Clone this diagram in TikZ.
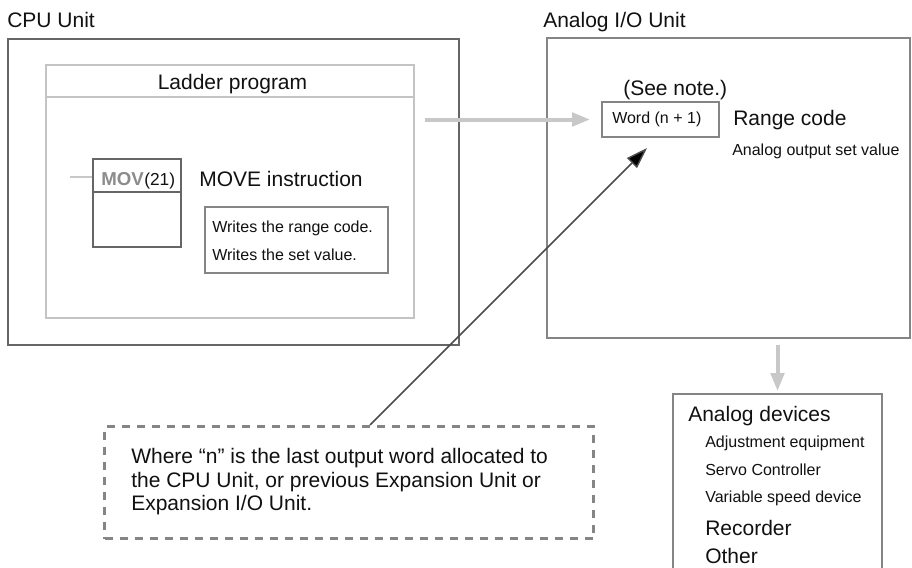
\documentclass[tikz,border=0pt]{standalone}
\usepackage{fontspec}
\setmainfont{Liberation Sans}
\usetikzlibrary{calc,arrows.meta}
\definecolor{boxgray}{HTML}{858585}
\definecolor{lightbox}{HTML}{C4C4C4}
\definecolor{arrowgray}{HTML}{C8C8C8}
\definecolor{movgray}{HTML}{8C8C8C}
\definecolor{txt}{HTML}{111111}
\begin{document}
\begin{tikzpicture}[x=0.75pt,y=-0.75pt,
  big/.style={font=\fontsize{15.75}{18}\selectfont, text=txt, inner sep=0pt, anchor=base west},
  small/.style={font=\fontsize{12}{14}\selectfont, text=txt, inner sep=0pt, anchor=base west},
  frame/.style={draw=#1, line width=1.5pt, inner sep=0pt, anchor=north west},
  grayarrow/.style={draw=arrowgray, line width=3pt, -{Triangle[length=13.5pt,width=10pt]}},
  notearrow/.style={draw=black!70, line width=1.1pt, -{Triangle[length=16pt,width=10.5pt,fill=black]}},
  notebox/.style={draw=boxgray, line width=2.25pt, dash pattern=on 6pt off 5.25pt, inner sep=0pt, anchor=north west}
]
\clip (0,0) rectangle (912,567);
\fill[white] (0,0) rectangle (912,567);

% titles
\node[big] (cputitle) at (7,27.5) {CPU Unit};
\node[big] (aiotitle) at (543,27.5) {Analog I/O Unit};

% CPU unit box
\node[frame=black!60, minimum width=338.25pt, minimum height=229.5pt] (cpu) at (7,38) {};
% ladder program box
\node[frame=lightbox, minimum width=276pt, minimum height=189.75pt] (ladder) at (45,64) {};
\draw[lightbox, line width=1.5pt] (ladder.north west |- 0,97) -- (ladder.north east |- 0,97);
\node[big, anchor=base] (laddertitle) at (232.5,89.5) {Ladder program};

% MOV instruction block
\node[frame=black!60, minimum width=66pt, minimum height=66pt, line width=1.2pt] (mov) at (92,158) {};
\draw[black!60, line width=1.2pt] (mov.north west |- 0,192) -- (mov.north east |- 0,192);
\coordinate (rail) at (70,177);
\draw[arrowgray, line width=2.2pt] (rail) -- (rail -| mov.west);
\node[inner sep=0pt, anchor=base west, font=\fontsize{14}{16}\selectfont\bfseries, text=movgray] (movname) at (101,185) {MOV};
\node[inner sep=0pt, anchor=base west, font=\fontsize{13}{15}\selectfont, text=txt] (movnum) at (movname.base east) {(21)};
\node[big] (movelabel) at (199,186) {MOVE instruction};

% writes box
\node[frame=boxgray, minimum width=137.25pt, minimum height=49.5pt] (writes) at (204,206) {};
\node[small] (w1) at (212,232) {Writes the range code.};
\node[small] (w2) at (212,260) {Writes the set value.};

% Analog I/O unit box
\node[frame=boxgray, minimum width=272.25pt, minimum height=225pt] (aio) at (546,37) {};
\node[big] (seenote) at (623,95.5) {(See note.)};
\node[frame=boxgray, minimum width=87.75pt, minimum height=26.25pt] (word) at (601,101) {};
\node[small] (wordtext) at (612,123) {Word (n + 1)};
\node[big] (range) at (733,125) {Range code};
\node[small] (aosv) at (732,155) {Analog output set value};

% arrow CPU -> word
\draw[grayarrow] ($(ladder.east |- word.west)+(10,0)$) -- ($(word.west)+(-11,0)$);

% note box
\node[notebox, minimum width=366.75pt, minimum height=84pt] (note) at (103,425) {};
\node[big] (n1) at (131,463) {Where “n” is the last output word allocated to};
\node[big] (n2) at (131,487) {the CPU Unit, or previous Expansion Unit or};
\node[big] (n3) at (131,510) {Expansion I/O Unit.};
\coordinate (notetop) at (370,425);
\coordinate (tip) at (647,148);
\draw[notearrow] (notetop) -- (tip);

% analog devices box
\node[frame=boxgray, minimum width=156.75pt, minimum height=170pt] (dev) at (672,393) {};
\draw[grayarrow] ($(dev.north |- aio.south)+(0,6)$) -- ($(dev.north)+(0,-2)$);
\node[big] (d0) at (688,421.5) {Analog devices};
\node[small] (d1) at (705,447.3) {Adjustment equipment};
\node[small] (d2) at (705,475.7) {Servo Controller};
\node[small] (d3) at (705,502.3) {Variable speed device};
\node[big] (d4) at (705,535) {Recorder};
\node[big] (d5) at (705,563) {Other};
\end{tikzpicture}
\end{document}
